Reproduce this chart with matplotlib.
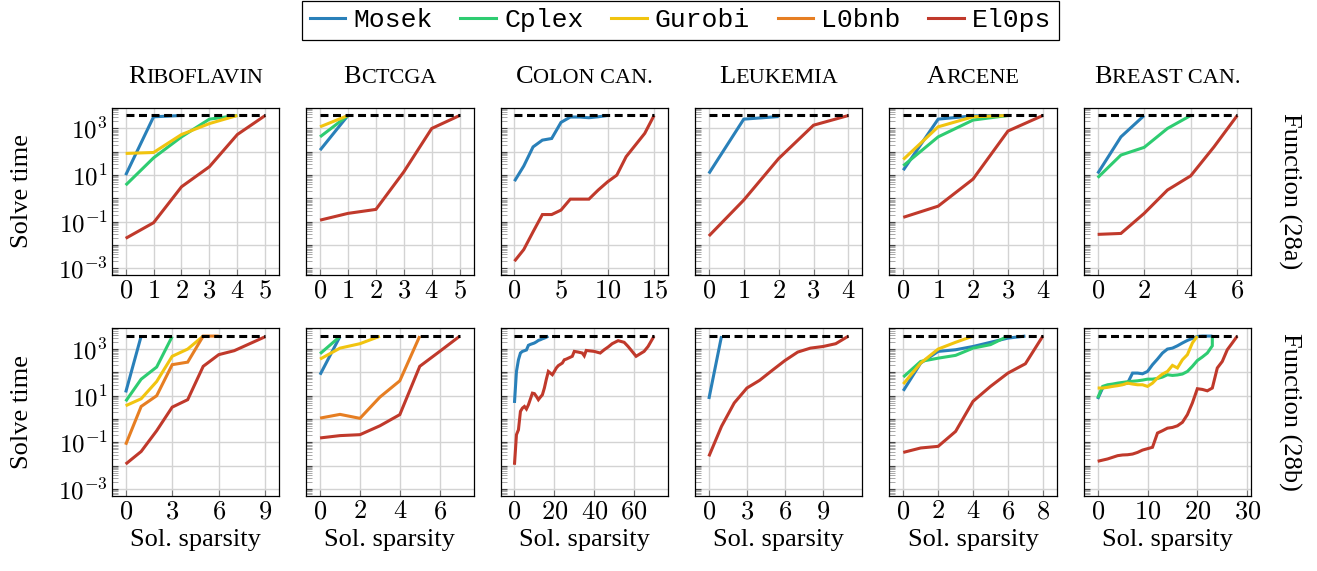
import matplotlib
matplotlib.use("Agg")
import matplotlib.pyplot as plt
import numpy as np
from matplotlib.ticker import FixedLocator, FuncFormatter, NullFormatter, LogLocator

plt.rcParams["mathtext.fontset"] = "cm"
plt.rcParams["font.family"] = ["Liberation Serif", "DejaVu Serif"]

W, H = 1317, 571
fig = plt.figure(figsize=(W / 100, H / 100), dpi=100)

# ---------------- data (log10 of solve time in seconds) ----------------
SOLVERS = ["Mosek", "Cplex", "Gurobi", "L0bnb", "El0ps"]
COLORS = {"Mosek": "#2980b9", "Cplex": "#2ecc71", "Gurobi": "#f1c40f",
          "L0bnb": "#e67e22", "El0ps": "#c0392b"}
TIME_LIMIT = 3600
DATASETS = ["Riboflavin", "Bctcga", "Colon can.", "Leukemia", "Arcene", "Breast can."]
ROW_LABELS = ["Function (28a)", "Function (28b)"]

XMAX_A = [5, 5, 15, 4, 4, 6]
XMAX_B = [9, 7, 70, 11, 8, 28]
XTICKS_A = [[0, 1, 2, 3, 4, 5], [0, 1, 2, 3, 4, 5], [0, 5, 10, 15],
            [0, 1, 2, 3, 4], [0, 1, 2, 3, 4], [0, 2, 4, 6]]
XTICKS_B = [[0, 3, 6, 9], [0, 2, 4, 6], [0, 20, 40, 60],
            [0, 3, 6, 9], [0, 2, 4, 6, 8], [0, 10, 20, 30]]

# Function (28a)
riboflavin_a = {
    "Mosek": [1.0, 3.5, 3.556],
    "Cplex": [0.57, 1.74, 2.64, 3.4, 3.556],
    "Gurobi": [1.93, 1.97, 2.74, 3.21, 3.556],
    "El0ps": [-1.71, -1.04, 0.5, 1.36, 2.74, 3.556],
}
bctcga_a = {
    "Mosek": [2.07, 3.556],
    "Cplex": [2.64, 3.556],
    "Gurobi": [3.07, 3.556],
    "El0ps": [-0.93, -0.64, -0.47, 1.14, 3.0, 3.556],
}
colon_a = {
    "Mosek": [0.74, 1.39, 2.21, 2.5, 2.57, 3.26, 3.49, 3.49, 3.46, 3.5, 3.556],
    "El0ps": [-2.69, -2.19, -1.43, -0.69, -0.69, -0.5, -0.03, -0.03, -0.03,
              0.36, 0.71, 1.0, 1.79, 2.29, 2.79, 3.556],
}
leukemia_a = {
    "Mosek": [1.07, 3.4, 3.51],
    "El0ps": [-1.61, -0.07, 1.71, 3.14, 3.556],
}
arcene_a = {
    "Mosek": [1.21, 3.4, 3.54, 3.556],
    "Cplex": [1.4, 2.64, 3.36, 3.556],
    "Gurobi": [1.67, 3.07, 3.5, 3.556],
    "El0ps": [-0.81, -0.33, 0.83, 2.89, 3.556],
}
breast_a = {
    "Mosek": [1.07, 2.64, 3.556],
    "Cplex": [0.89, 1.86, 2.19, 3.0, 3.556],
    "El0ps": [-1.54, -1.5, -0.64, 0.36, 0.97, 2.21, 3.556],
}

# Function (28b)
riboflavin_b = {
    "Mosek": [1.14, 3.556],
    "Cplex": [0.76, 1.71, 2.23, 3.54],
    "Gurobi": [0.57, 0.87, 1.61, 2.69, 3.0, 3.556],
    "L0bnb": [-1.1, 0.54, 1.0, 2.33, 2.44, 3.556, 3.556],
    "El0ps": [-1.93, -1.39, -0.5, 0.51, 0.83, 2.26, 2.76, 2.93, 3.23, 3.53],
}
bctcga_b = {
    "Mosek": [1.9, 3.54],
    "Cplex": [2.8, 3.54],
    "Gurobi": [2.57, 3.04, 3.23, 3.55],
    "L0bnb": [0.04, 0.2, 0.03, 0.94, 1.64, 3.556],
    "El0ps": [-0.81, -0.71, -0.67, -0.29, 0.19, 2.26, 2.9, 3.55],
}
colon_b = {
    "Mosek": [0.69, 2.04, 2.54, 2.83, 2.9, 2.93, 2.96, 3.16, 3.2, 3.23, 3.26,
              3.31, 3.37, 3.4, 3.44, 3.47, 3.51, 3.556],
    "El0ps": [-1.96, -0.67, -0.46, 0.33, 0.47, 0.54, 0.43, 0.61, 0.86, 1.11,
              1.09, 0.97, 0.83, 0.94, 1.04, 1.33, 1.71, 2.04, 1.97, 1.9, 2.04,
              2.19, 2.29, 2.4, 2.54, 2.57, 2.69, 2.9, 2.87, 2.83, 2.71, 2.94,
              2.9, 2.83, 2.97, 3.09, 3.23, 3.36, 3.29, 3.11, 2.69, 2.9, 3.11, 3.556],
}
colon_b_el0ps_x = [0, 1, 2, 3, 4, 5, 6, 7, 8, 9, 10, 11, 12, 13, 14, 15, 16,
                   17, 18, 19, 20, 21, 22, 24, 25, 26, 29, 30, 32, 34, 35, 36,
                   40, 43, 45, 47, 49, 52, 55, 57, 61, 65, 67, 70]
leukemia_b = {
    "Mosek": [0.86, 3.556],
    "El0ps": [-1.6, -0.31, 0.69, 1.33, 1.66, 2.09, 2.51, 2.87, 3.04, 3.11,
              3.23, 3.556],
}
arcene_b = {
    "Mosek": [1.21, 2.4, 2.9, 2.97, 3.11, 3.29, 3.47, 3.556],
    "Cplex": [1.8, 2.47, 2.61, 2.73, 3.04, 3.19, 3.556],
    "Gurobi": [1.5, 2.4, 3.0, 3.29, 3.556],
    "El0ps": [-1.43, -1.24, -1.17, -0.53, 0.76, 1.4, 1.97, 2.37, 3.556],
}
breast_b = {
    "Mosek": [0.86, 1.33, 1.4, 1.43, 1.47, 1.5, 1.54, 1.97, 1.97, 1.94, 2.04,
              2.33, 2.57, 2.83, 3.0, 3.04, 3.14, 3.26, 3.37, 3.46, 3.54, 3.556,
              3.556, 3.556],
    "Cplex": [0.9, 1.4, 1.47, 1.5, 1.54, 1.57, 1.6, 1.62, 1.64, 1.67, 1.71,
              1.71, 1.74, 1.8, 1.9, 1.87, 1.89, 1.93, 2.04, 2.26, 2.51, 2.66,
              2.83, 3.14, 3.556],
    "Gurobi": [1.33, 1.33, 1.36, 1.4, 1.43, 1.47, 1.54, 1.5, 1.47, 1.47, 1.4,
               1.54, 1.76, 1.93, 2.04, 2.3, 2.19, 2.54, 2.76, 3.26, 3.556],
    "El0ps": [-1.81, -1.76, -1.71, -1.64, -1.57, -1.54, -1.53, -1.5, -1.43,
              -1.33, -1.27, -1.21, -0.6, -0.5, -0.39, -0.36, -0.29, -0.14, 0.19,
              0.69, 1.3, 1.27, 1.21, 1.33, 2.19, 2.47, 2.97, 3.26, 3.556],
}
breast_b_cplex_x = list(range(24)) + [23]

ROWS = [
    [riboflavin_a, bctcga_a, colon_a, leukemia_a, arcene_a, breast_a],
    [riboflavin_b, bctcga_b, colon_b, leukemia_b, arcene_b, breast_b],
]
SPECIAL_X = {(1, 2, "El0ps"): colon_b_el0ps_x, (1, 5, "Cplex"): breast_b_cplex_x}

# ---------------- layout ----------------
AX_LEFT0 = 111.7
AX_STEP = 194.4
AX_W = 167.5
ROW_TOP = [107.7, 328.3]
AX_H = 167.5
YLIM = (10 ** -3.29, 10 ** 3.89)
FS = 19

def fmt_y(show):
    def f(v, pos):
        k = int(round(np.log10(v)))
        if show and k % 2 != 0:
            return r"$10^{%d}$" % k
        return ""
    return f

axes = []
for r in range(2):
    xmaxs = XMAX_A if r == 0 else XMAX_B
    xticks = XTICKS_A if r == 0 else XTICKS_B
    for c in range(6):
        left = (AX_LEFT0 + c * AX_STEP) / W
        bottom = 1 - (ROW_TOP[r] + AX_H) / H
        ax = fig.add_axes([left, bottom, AX_W / W, AX_H / H])
        axes.append(ax)
        data = ROWS[r][c]
        for s in SOLVERS:
            if s not in data:
                continue
            y = 10 ** np.array(data[s])
            x = SPECIAL_X.get((r, c, s), list(range(len(y))))
            ax.plot(x, y, color=COLORS[s], lw=2.2, solid_joinstyle="miter",
                    solid_capstyle="butt", zorder=3)
        xm = xmaxs[c]
        ax.plot([0, xm], [TIME_LIMIT, TIME_LIMIT], color="black", lw=2.2,
                dashes=(2.6, 1.5), zorder=4)
        ax.set_yscale("log")
        ax.set_ylim(*YLIM)
        ax.set_xlim(-0.1 * xm, 1.1 * xm)
        ax.yaxis.set_major_locator(FixedLocator([10.0 ** k for k in range(-4, 5)]))
        ax.yaxis.set_major_formatter(FuncFormatter(fmt_y(c == 0)))
        ax.yaxis.set_minor_locator(LogLocator(base=10, subs=np.arange(2, 10), numticks=30))
        ax.yaxis.set_minor_formatter(NullFormatter())
        ax.set_xticks(xticks[c])
        ax.set_xticklabels([r"$%d$" % v for v in xticks[c]])
        ax.grid(True, which="major", color="#d3d3d3", lw=1.0)
        ax.set_axisbelow(True)
        ax.tick_params(axis="y", which="major", direction="in", length=4,
                       width=0.8, color="#444444", labelsize=FS - 1, pad=3,
                       left=True, right=False)
        ax.tick_params(axis="y", which="minor", direction="in", length=4,
                       width=0.6, color="#9a9a9a", left=True, right=False)
        ax.tick_params(axis="x", which="major", direction="in", length=4,
                       width=0.8, color="#777777", labelsize=FS, pad=4,
                       bottom=True, top=False)
        for sp in ax.spines.values():
            sp.set_linewidth(0.9)
            sp.set_color("black")
        if r == 1:
            ax.set_xlabel("Sol. sparsity", fontsize=FS, labelpad=4)

# y labels and row labels
for r in range(2):
    yc = 1 - (ROW_TOP[r] + AX_H / 2) / H
    fig.text(22 / W, yc, "Solve time", rotation=90, ha="center", va="center",
             fontsize=FS)
    fig.text(1290 / W, yc, ROW_LABELS[r], rotation=270, ha="center",
             va="center", fontsize=FS)

# small-caps titles
renderer = fig.canvas.get_renderer()
BIG, SMALL = 19, 16
def smallcaps_title(ax, word, base_px):
    runs = []
    for ch in word:
        size = BIG if ch.isupper() else SMALL
        s = ch.upper()
        if runs and runs[-1][1] == size:
            runs[-1][0] += s
        else:
            runs.append([s, size])
    texts, widths = [], []
    for s, size in runs:
        t = fig.text(0, 0, s, fontsize=size, ha="left", va="baseline")
        texts.append(t)
        widths.append(t.get_window_extent(renderer).width)
    bb = ax.get_position()
    cx = (bb.x0 + bb.x1) / 2 * W
    x = cx - sum(widths) / 2
    for t, w in zip(texts, widths):
        t.set_position((x / W, 1 - base_px / H))
        x += w

for c in range(6):
    smallcaps_title(axes[c], DATASETS[c], 83)

# legend
handles = [plt.Line2D([], [], color=COLORS[s], lw=2.2) for s in SOLVERS]
leg = fig.legend(handles, SOLVERS, loc="upper center", ncol=5,
                 bbox_to_anchor=(680.5 / W, 0.999), frameon=True, fancybox=False,
                 edgecolor="black", framealpha=1, borderaxespad=0.0,
                 prop={"family": "Liberation Mono", "size": FS},
                 handlelength=1.35, handletextpad=0.3, columnspacing=1.05,
                 borderpad=0.3)
leg.get_frame().set_linewidth(0.9)

fig.savefig("out.png", dpi=100)
